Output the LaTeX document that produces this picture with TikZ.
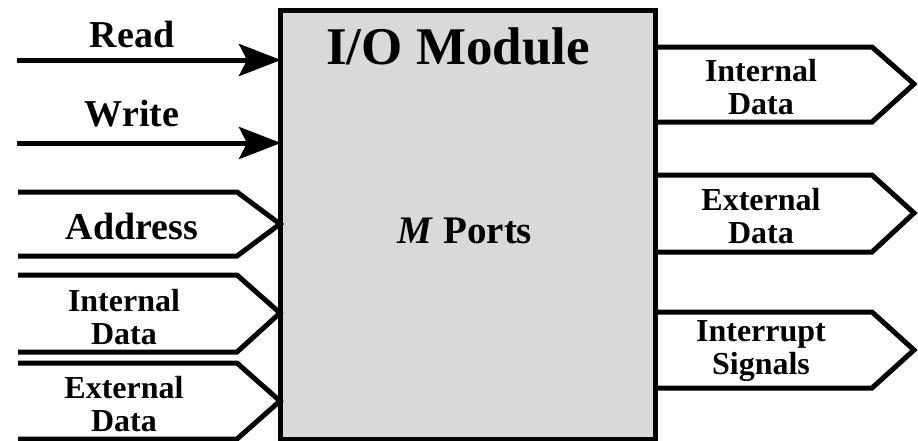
\documentclass[tikz,border=0pt]{standalone}
\usepackage{fontspec}
\setmainfont{Liberation Serif}
\usetikzlibrary{arrows.meta}
\begin{document}
\begin{tikzpicture}[x=1pt,y=-1pt,
  wire/.style={line width=5pt},
  bus/.style={line width=5pt, line join=miter},
  big/.style={font=\fontsize{38}{40}\selectfont\bfseries, inner sep=0pt},
  small/.style={font=\fontsize{32}{33}\selectfont\bfseries, align=center, inner sep=0pt},
  arr/.style={wire, -{Stealth[length=42pt,width=32pt,inset=8pt]}}
]
\useasboundingbox (0,0) rectangle (918,440);
% I/O module box
\draw[line width=5pt, fill={rgb,255:red,217;green,217;blue,217}] (280,10) rectangle (655,439);
% Read and Write
\coordinate (r0) at (17,60); \coordinate (r1) at (281,60);
\coordinate (w0) at (17,143); \coordinate (w1) at (281,143);
\draw[arr] (r0) -- (r1);
\draw[arr] (w0) -- (w1);
\node[big] (lread) at (132,34) {Read};
\node[big] (lwrite) at (132,114) {Write};
% left input buses
\draw[bus] (18,192) -- (237,192) -- (280,224) -- (237,256) -- (18,256);
\node[big] (laddr) at (132,226) {Address};
\draw[bus] (18,275) -- (237,275) -- (280,313) -- (237,352) -- (18,352);
\node[small] (lid) at (124,317) {Internal\\Data};
\draw[bus] (18,363) -- (237,363) -- (280,401) -- (237,439) -- (18,439);
\node[small] (led) at (124,404) {External\\Data};
% right output buses
\draw[bus] (655,47) -- (872,47) -- (914,84) -- (872,122) -- (655,122);
\node[small] (rid) at (761,87) {Internal\\Data};
\draw[bus] (655,175) -- (872,175) -- (914,213) -- (872,252) -- (655,252);
\node[small] (red) at (761,216) {External\\Data};
\draw[bus] (655,312) -- (872,312) -- (914,350) -- (872,388) -- (655,388);
\node[small] (ris) at (761,351) {Interrupt\\Signals};
% box texts
\node[font=\fontsize{53}{55}\selectfont\bfseries, inner sep=0pt] (title) at (458,46) {I/O Module};
\node[font=\fontsize{39}{41}\selectfont\bfseries, inner sep=0pt] (ports) at (465,231) {\textit{M} Ports};
\end{tikzpicture}
\end{document}
